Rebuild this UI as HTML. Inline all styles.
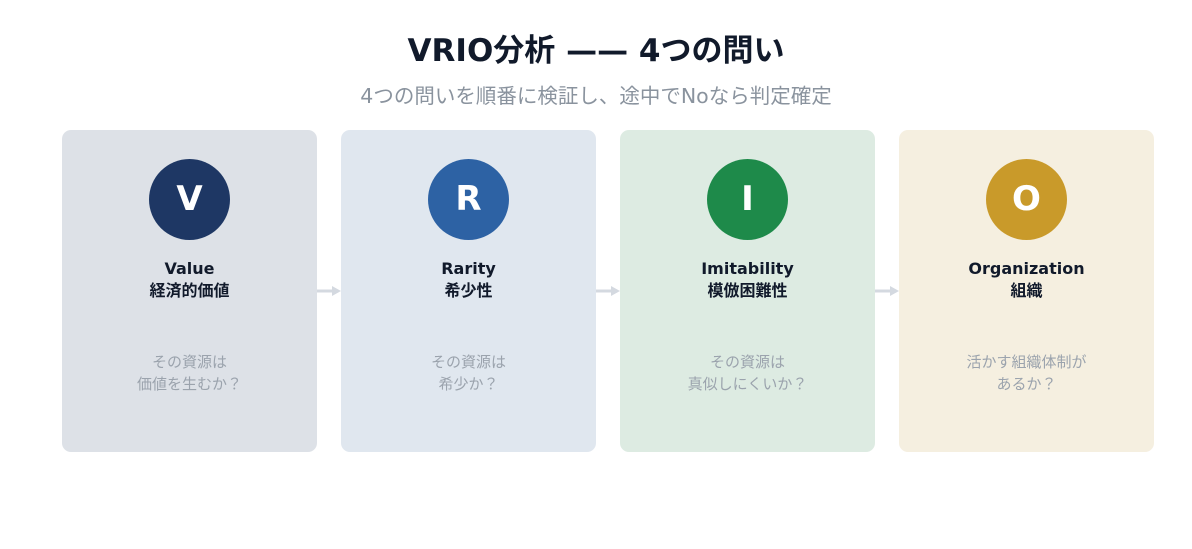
<!DOCTYPE html>
<html><head><meta charset="utf-8"><style>
body{margin:0;width:1192px;height:549px;background:#fff;font-family:"DejaVu Sans","Noto Sans CJK JP",sans-serif;position:relative;overflow:hidden}
.t{position:absolute;left:0;width:1192px;text-align:center}
.card{position:absolute;top:130px;width:255px;height:322px;border-radius:9px}
.c{position:absolute;left:87px;top:29px;width:81px;height:81px;border-radius:50%;color:#fff;font-weight:bold;font-size:34px;line-height:81px;text-align:center}
.h{position:absolute;left:0;width:255px;text-align:center;top:128px;font-weight:bold;color:#111a2b;font-size:16px;line-height:22px}
.h2{font-size:16px}
.d{position:absolute;left:0;width:255px;text-align:center;top:221px;color:#9ba3ad;font-size:15px;line-height:22px}
.ar{position:absolute;top:286px;width:24px;height:10px}
</style></head><body>
<div class="t" style="top:25px;font-size:31px;font-weight:bold;color:#111a2b">VRIO分析 —— 4つの問い</div>
<div class="t" style="top:79px;font-size:20.5px;color:#8a939e">4つの問いを順番に検証し、途中でNoなら判定確定</div>

<div class="card" style="left:62px;background:#dde1e7"><div class="c" style="background:#1e3764">V</div><div class="h">Value<br><span class="h2">経済的価値</span></div><div class="d">その資源は<br>価値を生むか？</div></div>
<div class="card" style="left:341px;background:#e0e7ef"><div class="c" style="background:#2d62a4">R</div><div class="h">Rarity<br><span class="h2">希少性</span></div><div class="d">その資源は<br>希少か？</div></div>
<div class="card" style="left:620px;background:#ddebe2"><div class="c" style="background:#1e8a4a">I</div><div class="h">Imitability<br><span class="h2">模倣困難性</span></div><div class="d">その資源は<br>真似しにくいか？</div></div>
<div class="card" style="left:899px;background:#f5efe0"><div class="c" style="background:#c99a2a">O</div><div class="h">Organization<br><span class="h2">組織</span></div><div class="d">活かす組織体制が<br>あるか？</div></div>

<svg class="ar" style="left:317px" viewBox="0 0 24 10"><line x1="0" y1="5" x2="17" y2="5" stroke="#d4d9e0" stroke-width="3"/><polygon points="15,0 24,5 15,10" fill="#d4d9e0"/></svg>
<svg class="ar" style="left:596px" viewBox="0 0 24 10"><line x1="0" y1="5" x2="17" y2="5" stroke="#d4d9e0" stroke-width="3"/><polygon points="15,0 24,5 15,10" fill="#d4d9e0"/></svg>
<svg class="ar" style="left:875px" viewBox="0 0 24 10"><line x1="0" y1="5" x2="17" y2="5" stroke="#d4d9e0" stroke-width="3"/><polygon points="15,0 24,5 15,10" fill="#d4d9e0"/></svg>
</body></html>
